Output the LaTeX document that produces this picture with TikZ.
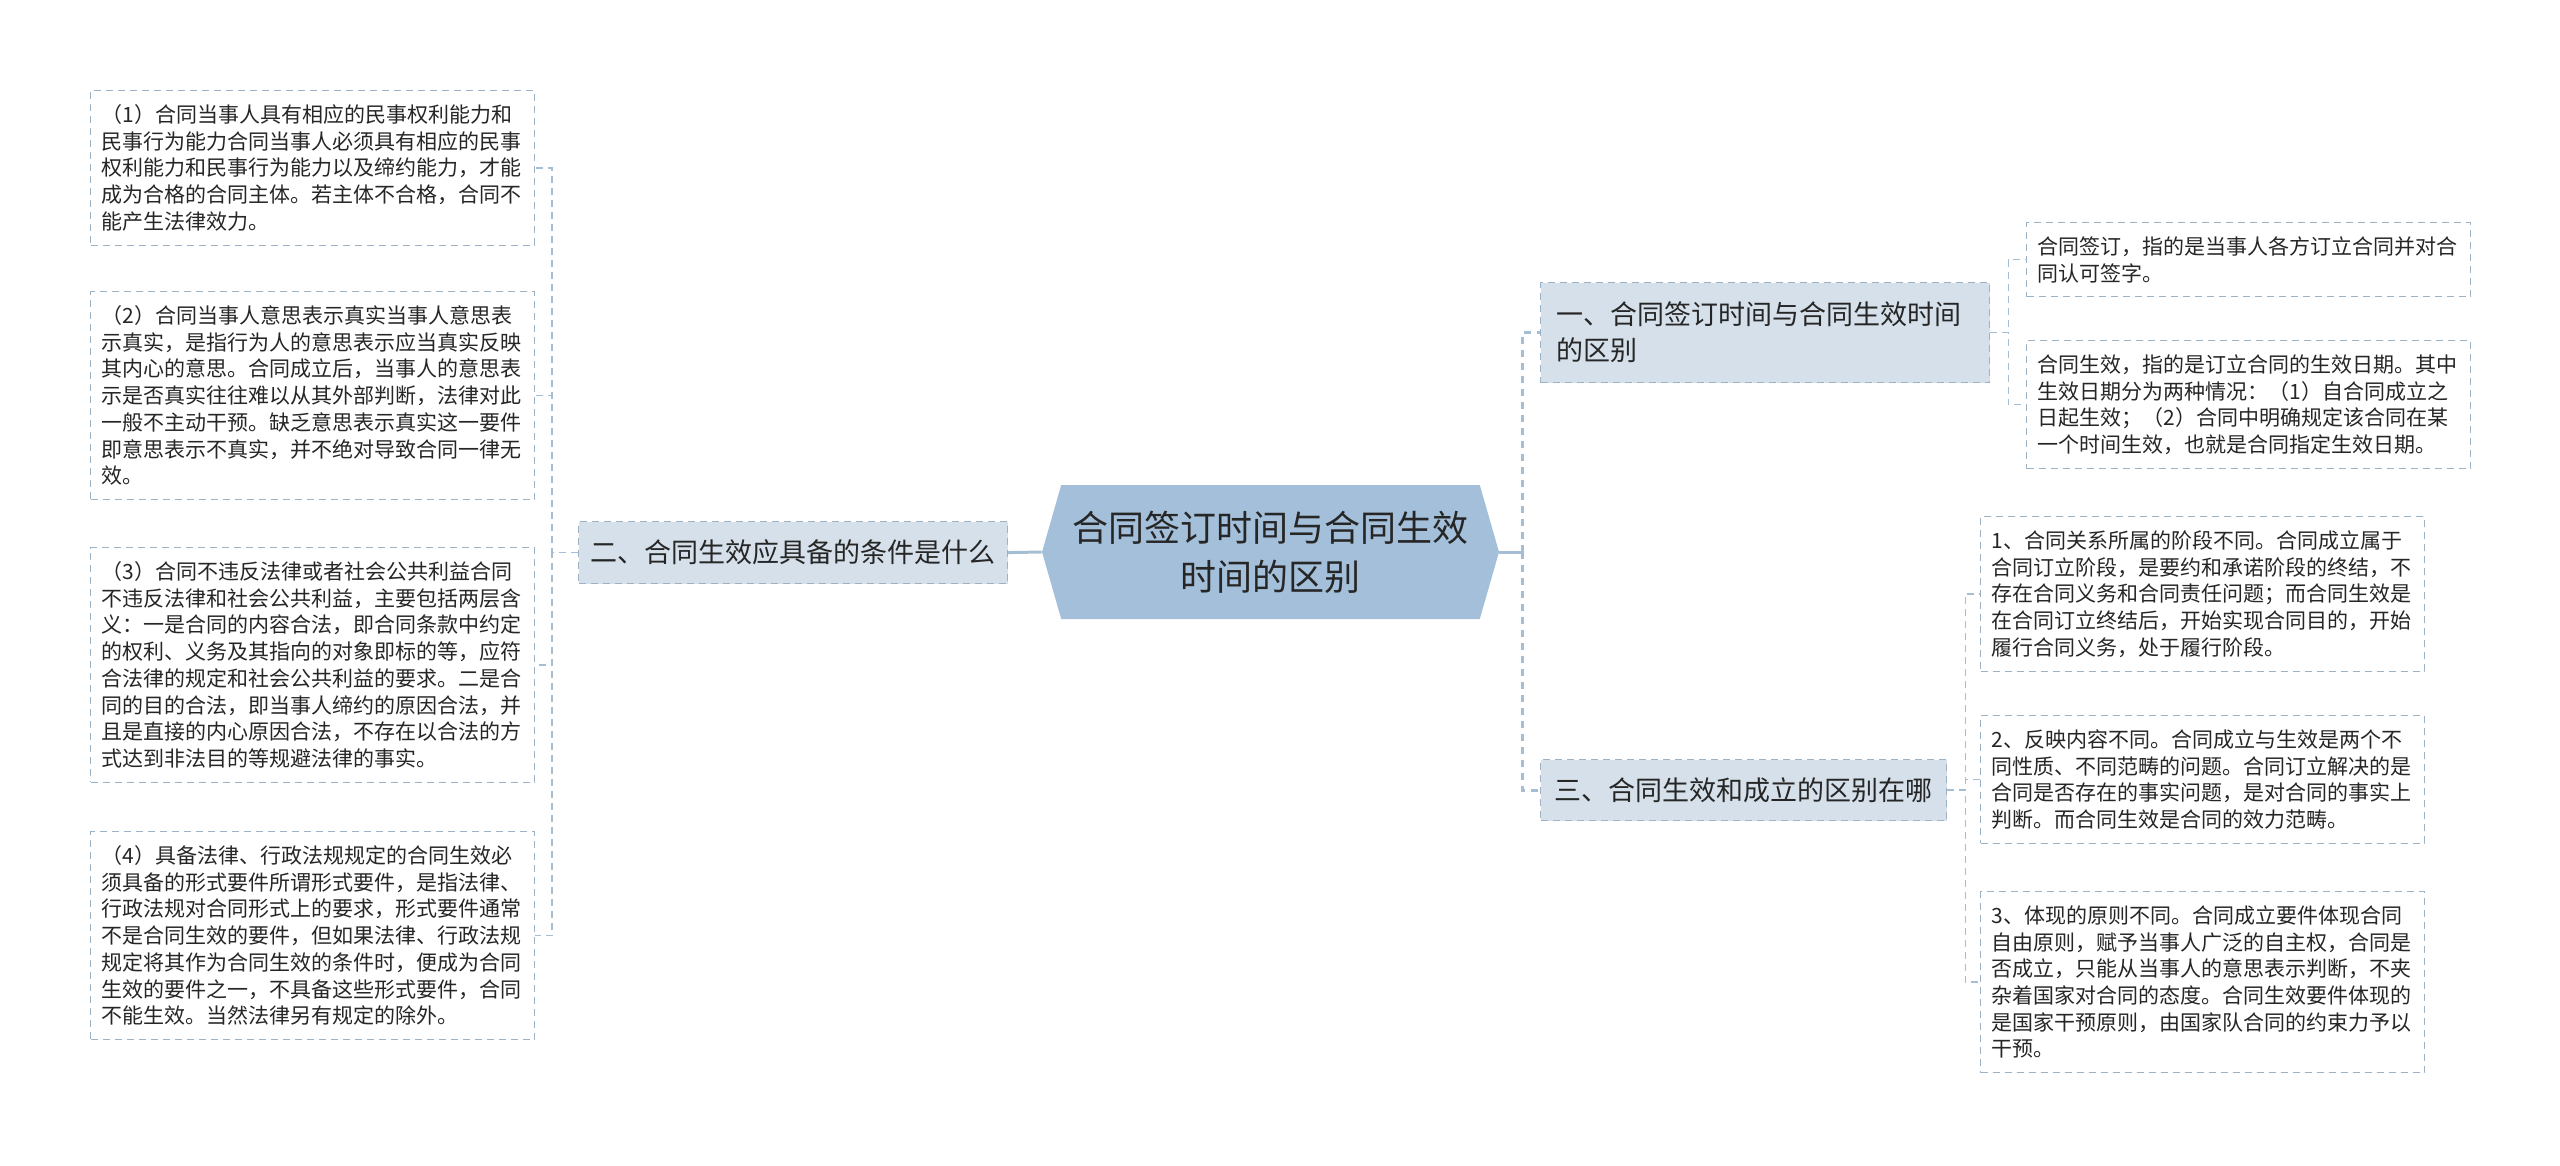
\documentclass[tikz,border=0pt]{standalone}
\usepackage{fontspec}
\setmainfont{Noto Sans CJK SC}
\usepackage{xcolor}
\usetikzlibrary{shapes.symbols, positioning}

\definecolor{hubfill}{HTML}{A3BFD9}
\definecolor{branchfill}{HTML}{D5E0EA}
\definecolor{boxline}{HTML}{9DB2C4}
\definecolor{linkcol}{HTML}{A6BED3}
\definecolor{txt}{HTML}{262626}

\tikzset{
  hub/.style={signal, signal to=west and east, signal pointer angle=148,
    fill=hubfill, draw=none, minimum width=228.5pt, minimum height=67pt,
    align=center, text=txt, font=\fontsize{18}{24.5}\selectfont},
  branch/.style={draw=boxline, line width=0.6pt, dash pattern=on 3.5pt off 2.5pt,
    fill=branchfill, inner xsep=6pt, inner ysep=6pt, anchor=north west,
    align=center, text=txt, font=\fontsize{13.5}{18}\selectfont},
  leaf/.style={draw=boxline, line width=0.6pt, dash pattern=on 3.5pt off 2.5pt,
    fill=white, inner xsep=5.5pt, inner ysep=7pt, text width=211pt,
    anchor=north west, align=left, text=txt, font=\fontsize{10.5}{13.35}\selectfont},
  hublink/.style={draw=linkcol, line width=1.5pt},
  mainlink/.style={draw=linkcol, line width=1.5pt, dash pattern=on 3.5pt off 3pt},
  leaflink/.style={draw=linkcol, line width=0.7pt, dash pattern=on 3.5pt off 2.5pt},
}

\begin{document}
\begin{tikzpicture}[x=0.5pt, y=-0.5pt]
  \useasboundingbox (0,0) rectangle (2560,1166);

  % tema central
  \node[hub] (hub) at (1270.5,552) {合同签订时间与合同生效\\时间的区别};

  % ramas
  \node[branch, text width=208.5pt, inner xsep=8pt, minimum height=50pt, align=left]
    (b1) at (1540,282) {一、合同签订时间与合同生效时间\\的区别};
  \node[branch, minimum width=212.5pt, minimum height=31pt]
    (b2) at (578,521) {二、合同生效应具备的条件是什么};
  \node[branch, minimum width=203pt, minimum height=30.5pt]
    (b3) at (1540,759) {三、合同生效和成立的区别在哪};

  % hojas izquierda
  \node[leaf] (l1) at (90,90) {（1）合同当事人具有相应的民事权利能力和\\
    民事行为能力合同当事人必须具有相应的民事\\
    权利能力和民事行为能力以及缔约能力，才能\\
    成为合格的合同主体。若主体不合格，合同不\\
    能产生法律效力。};
  \node[leaf] (l2) at (90,291) {（2）合同当事人意思表示真实当事人意思表\\
    示真实，是指行为人的意思表示应当真实反映\\
    其内心的意思。合同成立后，当事人的意思表\\
    示是否真实往往难以从其外部判断，法律对此\\
    一般不主动干预。缺乏意思表示真实这一要件\\
    即意思表示不真实，并不绝对导致合同一律无\\
    效。};
  \node[leaf] (l3) at (90,547) {（3）合同不违反法律或者社会公共利益合同\\
    不违反法律和社会公共利益，主要包括两层含\\
    义：一是合同的内容合法，即合同条款中约定\\
    的权利、义务及其指向的对象即标的等，应符\\
    合法律的规定和社会公共利益的要求。二是合\\
    同的目的合法，即当事人缔约的原因合法，并\\
    且是直接的内心原因合法，不存在以合法的方\\
    式达到非法目的等规避法律的事实。};
  \node[leaf] (l4) at (90,831) {（4）具备法律、行政法规规定的合同生效必\\
    须具备的形式要件所谓形式要件，是指法律、\\
    行政法规对合同形式上的要求，形式要件通常\\
    不是合同生效的要件，但如果法律、行政法规\\
    规定将其作为合同生效的条件时，便成为合同\\
    生效的要件之一，不具备这些形式要件，合同\\
    不能生效。当然法律另有规定的除外。};

  % hojas derecha
  \node[leaf] (r1) at (2026,222) {合同签订，指的是当事人各方订立合同并对合\\
    同认可签字。};
  \node[leaf] (r2) at (2026,340) {合同生效，指的是订立合同的生效日期。其中\\
    生效日期分为两种情况：（1）自合同成立之\\
    日起生效；（2）合同中明确规定该合同在某\\
    一个时间生效，也就是合同指定生效日期。};
  \node[leaf] (r3) at (1980,516) {1、合同关系所属的阶段不同。合同成立属于\\
    合同订立阶段，是要约和承诺阶段的终结，不\\
    存在合同义务和合同责任问题；而合同生效是\\
    在合同订立终结后，开始实现合同目的，开始\\
    履行合同义务，处于履行阶段。};
  \node[leaf] (r4) at (1980,715) {2、反映内容不同。合同成立与生效是两个不\\
    同性质、不同范畴的问题。合同订立解决的是\\
    合同是否存在的事实问题，是对合同的事实上\\
    判断。而合同生效是合同的效力范畴。};
  \node[leaf] (r5) at (1980,891) {3、体现的原则不同。合同成立要件体现合同\\
    自由原则，赋予当事人广泛的自主权，合同是\\
    否成立，只能从当事人的意思表示判断，不夹\\
    杂着国家对合同的态度。合同生效要件体现的\\
    是国家干预原则，由国家队合同的约束力予以\\
    干预。};

  % conexiones
  \draw[hublink] (hub.west) -- (b2.east);
  \draw[hublink] (hub.east) -- ++(23,0) coordinate (rbus);
  \draw[mainlink] (rbus) |- (b1.west);
  \draw[mainlink] (rbus) |- (b3.west);
  \foreach \n in {l1,l2,l3,l4}
    \draw[leaflink] (b2.west) -- ++(-26,0) |- (\n.east);
  \foreach \n in {r1,r2}
    \draw[leaflink] (b1.east) -- ++(18,0) |- (\n.west);
  \foreach \n in {r3,r4,r5}
    \draw[leaflink] (b3.east) -- ++(18,0) |- (\n.west);
\end{tikzpicture}
\end{document}
